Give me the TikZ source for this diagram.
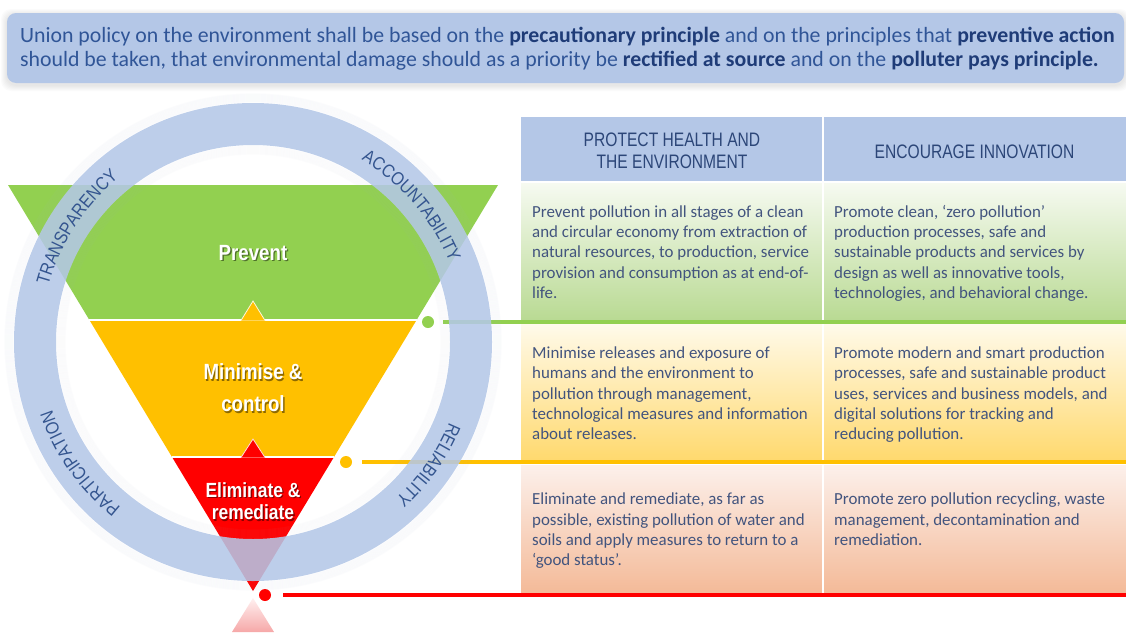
\documentclass[tikz,border=0pt]{standalone}
\usepackage{fontspec}
\setmainfont{Carlito}
\newfontfamily\narrowfont[FakeStretch=0.85]{Liberation Sans}
\newfontfamily\headfont[FakeStretch=0.8]{Liberation Sans}
\newfontfamily\arialfont[FakeStretch=0.86]{Liberation Sans}
\usetikzlibrary{decorations.text}
\definecolor{ringblue}{HTML}{B4C7E7}
\definecolor{tgreen}{HTML}{92D050}
\definecolor{tyellow}{HTML}{FFC000}
\definecolor{tred}{HTML}{FF0000}
\definecolor{bannertext}{HTML}{305597}
\definecolor{bannerbold}{HTML}{1F3C78}
\definecolor{bodytext}{HTML}{42547E}
\definecolor{headtext}{HTML}{2C4678}
\definecolor{ringtext}{HTML}{34558F}
\newcommand\ringfnt{\arialfont\fontsize{18.5}{18.5}\selectfont}
\newcommand\bb[1]{\textcolor{bannerbold}{\textbf{#1}}}
\begin{document}
\begin{tikzpicture}[x=1pt,y=-1pt,
  banline/.style={anchor=base west, inner sep=0, text=bannertext, font=\fontsize{21.8}{24}\selectfont},
  head/.style={inner sep=0, anchor=center, text=headtext, font=\headfont\fontsize{19.5}{19.5}\selectfont},
  body/.style={anchor=north west, inner sep=0, align=left, text=bodytext, font=\fontsize{16.9}{20.4}\selectfont},
  lbl/.style={inner sep=0, anchor=center, text=white, font=\narrowfont\bfseries\fontsize{22}{22}\selectfont},
  lblsm/.style={lbl, font=\narrowfont\bfseries\fontsize{20.5}{20.5}\selectfont},
  shadowlbl/.style={text=black, opacity=0.45},
  dotnode/.style={circle, inner sep=0, minimum size=12pt},
  rowline/.style={line width=3.5pt},
  ringword/.style={decorate, decoration={text along path, text align=center, text color=ringtext, text={|\ringfnt|#1}}}
]
\useasboundingbox (0,0) rectangle (1126,632);
\fill[white] (0,0) rectangle (1126,632);

% ---------- banner ----------
\foreach \i in {1,...,6}
  \fill[black, opacity=0.015, rounded corners=10pt] (7-\i,13-\i+2) rectangle (1124+\i,83+\i+2);
\fill[ringblue, rounded corners=9pt] (7,13) rectangle (1124,83);
\node[banline] (ban1) at (20,42.5) {Union policy on the environment shall be based on the \bb{precautionary principle} and on the principles that \bb{preventive action}};
\node[banline] (ban2) at (20,66) {should be taken, that environmental damage should as a priority be \bb{rectified at source} and on the \bb{polluter pays principle.}};

% ---------- table ----------
\fill[ringblue] (521,117) rectangle (1126,181);
\shade[top color={rgb,255:red,246;green,250;blue,241}, bottom color={rgb,255:red,185;green,218;blue,147}] (521,183) rectangle (1126,320);
\shade[top color={rgb,255:red,255;green,250;blue,234}, bottom color={rgb,255:red,255;green,217;blue,110}] (521,324) rectangle (1126,460);
\shade[top color={rgb,255:red,252;green,240;blue,235}, bottom color={rgb,255:red,244;green,186;blue,152}] (521,465) rectangle (1126,593);
\draw[white, line width=1.5pt] (823,117) -- (823,593);

\node[head] (h1a) at (672,140) {PROTECT HEALTH AND};
\node[head] (h1b) at (672,162) {THE ENVIRONMENT};
\node[head] (h2) at (974.5,152) {ENCOURAGE INNOVATION};

\node[body] (g1) at (532,202.6) {\strut Prevent pollution in all stages of a clean\\and circular economy from extraction of\\natural resources, to production, service\\provision and consumption as at end-of-\\life.};
\node[body] (g2) at (834,202.6) {\strut Promote clean, ‘zero pollution’\\production processes, safe and\\sustainable products and services by\\design as well as innovative tools,\\technologies, and behavioral change.};
\node[body] (y1) at (532,343.9) {\strut Minimise releases and exposure of\\humans and the environment to\\pollution through management,\\technological measures and information\\about releases.};
\node[body] (y2) at (834,343.9) {\strut Promote modern and smart production\\processes, safe and sustainable product\\uses, services and business models, and\\digital solutions for tracking and\\reducing pollution.};
\node[body] (r1) at (532,490.3) {\strut Eliminate and remediate, as far as\\possible, existing pollution of water and\\soils and apply measures to return to a\\‘good status’.};
\node[body] (r2) at (834,490.3) {\strut Promote zero pollution recycling, waste\\management, decontamination and\\remediation.};

% ---------- level lines and dots ----------
\node[dotnode, fill=tgreen] (gdot) at (428,322) {};
\node[dotnode, fill=tyellow] (ydot) at (346,462) {};
\node[dotnode, fill=tred] (rdot) at (265,595) {};
\coordinate (gend) at (1126,322);
\coordinate (yend) at (1126,462);
\coordinate (rend) at (1126,595);
\draw[rowline, tgreen, shorten <=15pt] (gdot.center) -- (gend);
\draw[rowline, tyellow, shorten <=16pt] (ydot.center) -- (yend);
\draw[rowline, tred, shorten <=18pt] (rdot.center) -- (rend);

% ---------- inverted triangle ----------
\fill[tgreen] (8,185) -- (498,185) -- (416.6,320) -- (89.4,320) -- cycle;
\fill[tyellow] (89.4,320) -- (416.6,320) -- (334,457) -- (172,457) -- cycle;
\fill[tred] (172,457) -- (334,457) -- (253,591) -- cycle;
\draw[white, line width=1.3pt] (89.4,320) -- (416.6,320);
\draw[white, line width=1.3pt] (172,457) -- (334,457);
\draw[white!85!tyellow, line width=0.8pt, fill=tyellow] (241,320.5) -- (253,301) -- (265,320.5);
\draw[white!85!tred, line width=0.8pt, fill=tred] (241,457.5) -- (253,439) -- (265,457.5);
\shade[top color={rgb,255:red,255;green,240;blue,240}, bottom color={rgb,255:red,246;green,168;blue,168}] (253,598) -- (274,632) -- (232,632) -- cycle;

% ---------- ring ----------
\begin{scope}[shift={(253,342)}, y=1pt]
  \foreach \i in {1,...,9} {
    \draw[ringblue!80!gray, opacity=0.045, line width=1.2pt] (0,0) circle[radius=239+\i];
    \draw[ringblue!80!gray, opacity=0.035, line width=1.2pt] (0,0) circle[radius=197-\i];
  }
  \fill[ringblue, opacity=0.87, even odd rule] (0,0) circle[radius=239] (0,0) circle[radius=197];
  \path[ringword=TRANSPARENCY] (172:212) arc[start angle=172, end angle=122, radius=212];
  \path[ringword=ACCOUNTABILITY] (65.6:212) arc[start angle=65.6, end angle=15.6, radius=212];
  \path[ringword=PARTICIPATION] (240:212) arc[start angle=240, end angle=190, radius=212];
  \path[ringword=RELIABILITY] (-10:212) arc[start angle=-10, end angle=-60, radius=212];
\end{scope}

% ---------- level labels ----------
\node[lbl, shadowlbl] (sprev) at (254.3,254.3) {Prevent};
\node[lbl] (prev) at (253,253) {Prevent};
\node[lbl, shadowlbl] (smin1) at (254.3,373.3) {Minimise \&};
\node[lbl] (min1) at (253,372) {Minimise \&};
\node[lbl, shadowlbl] (smin2) at (254.3,405.3) {control};
\node[lbl] (min2) at (253,404) {control};
\node[lblsm, shadowlbl] (selim1) at (254.3,491.3) {Eliminate \&};
\node[lblsm] (elim1) at (253,490) {Eliminate \&};
\node[lblsm, shadowlbl] (selim2) at (254.3,513.8) {remediate};
\node[lblsm] (elim2) at (253,512.5) {remediate};
\end{tikzpicture}
\end{document}
